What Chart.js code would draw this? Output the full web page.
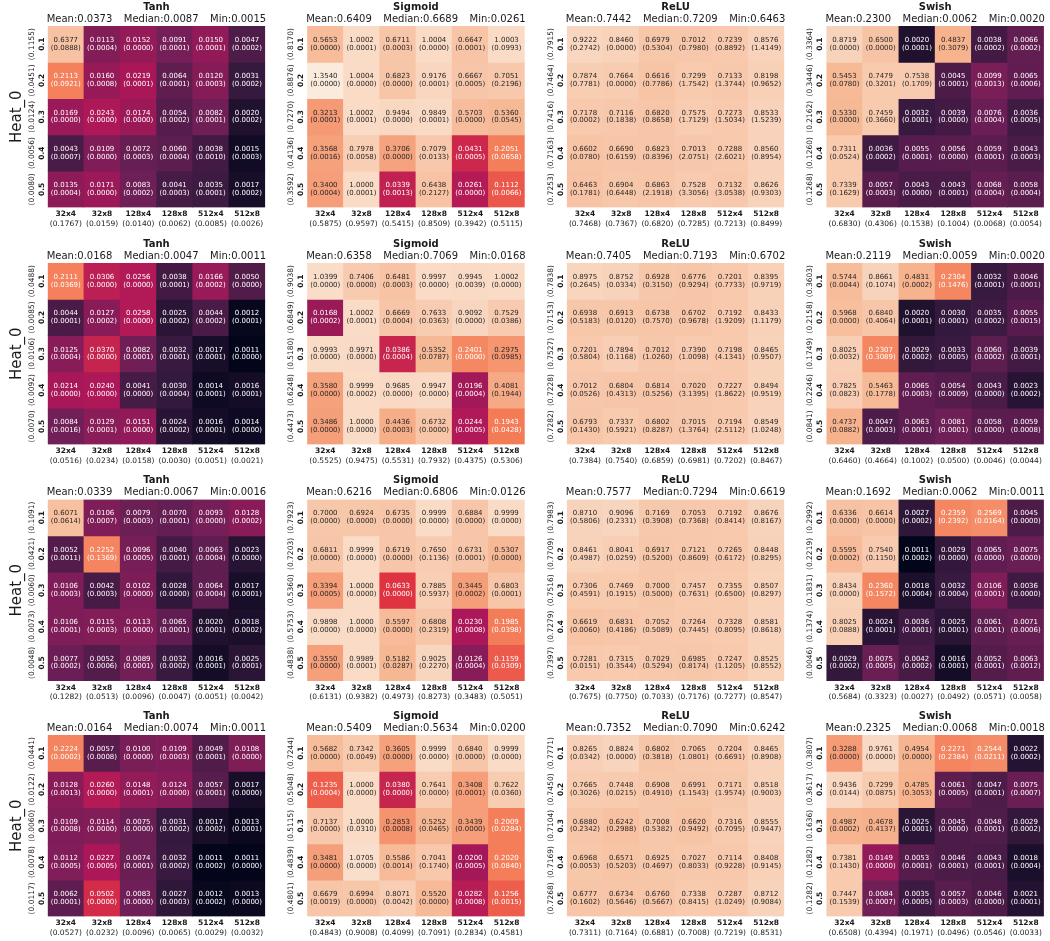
<!DOCTYPE html>
<html><head><meta charset="utf-8">
<script src="https://cdn.jsdelivr.net/npm/chart.js@4.4.1/dist/chart.umd.min.js"></script>
<style>
html,body{margin:0;padding:0;background:#fff;}
#wrap{position:relative;width:1050px;height:941px;overflow:hidden;background:#fff;}
canvas{position:absolute;}
</style></head><body><div id="wrap"></div>
<script>
// ---------------- DATA ----------------
const activations = ['Tanh', 'Sigmoid', 'ReLU', 'Swish'];
const colLabels = ['32x4', '32x8', '128x4', '128x8', '512x4', '512x8'];
const rowLabels = ['0.1', '0.2', '0.3', '0.4', '0.5'];
const heatLabel = 'Heat_0';

// ===== Row 1 =====
const r1TanhVals = [[0.6377,0.0113,0.0152,0.0091,0.0150,0.0047],[0.2113,0.0160,0.0219,0.0064,0.0120,0.0031],[0.0169,0.0243,0.0174,0.0054,0.0082,0.0020],[0.0043,0.0109,0.0072,0.0060,0.0038,0.0015],[0.0135,0.0171,0.0083,0.0041,0.0035,0.0017]];
const r1TanhStds = [[0.0888,0.0004,0.0000,0.0001,0.0001,0.0002],[0.0921,0.0008,0.0001,0.0001,0.0003,0.0002],[0.0000,0.0000,0.0000,0.0002,0.0001,0.0002],[0.0007,0.0000,0.0003,0.0004,0.0010,0.0003],[0.0004,0.0000,0.0002,0.0003,0.0001,0.0002]];
const r1TanhRowMeans = [0.1155,0.0451,0.0124,0.0056,0.0080];
const r1TanhColMeans = [0.1767,0.0159,0.0140,0.0062,0.0085,0.0026];
const r1TanhStats = [0.0373,0.0087,0.0015];

const r1SigmoidVals = [[0.5653,1.0002,0.6711,1.0004,0.6647,1.0003],[1.3540,1.0004,0.6823,0.9176,0.6667,0.7051],[0.3213,1.0002,0.9494,0.9849,0.5703,0.5360],[0.3568,0.7978,0.3706,0.7079,0.0431,0.2051],[0.3400,1.0000,0.0339,0.6438,0.0261,0.1112]];
const r1SigmoidStds = [[0.0000,0.0001,0.0003,0.0000,0.0001,0.0993],[0.0000,0.0000,0.0000,0.0001,0.0005,0.2196],[0.0001,0.0001,0.0000,0.0001,0.0000,0.0545],[0.0016,0.0058,0.0000,0.0133,0.0005,0.0658],[0.0004,0.0001,0.0013,0.2127,0.0000,0.0066]];
const r1SigmoidRowMeans = [0.8170,0.8876,0.7270,0.4136,0.3592];
const r1SigmoidColMeans = [0.5875,0.9597,0.5415,0.8509,0.3942,0.5115];
const r1SigmoidStats = [0.6409,0.6689,0.0261];

const r1ReluVals = [[0.9222,0.8460,0.6979,0.7012,0.7239,0.8576],[0.7874,0.7664,0.6616,0.7299,0.7133,0.8198],[0.7178,0.7116,0.6820,0.7575,0.7273,0.8533],[0.6602,0.6690,0.6823,0.7013,0.7288,0.8560],[0.6463,0.6904,0.6863,0.7528,0.7132,0.8626]];
const r1ReluStds = [[0.2742,0.0000,0.5304,0.7980,0.8892,1.4149],[0.7781,0.0000,0.7786,1.7542,1.3744,0.9652],[0.0002,0.1838,0.8658,1.7129,1.5034,1.5239],[0.0780,0.6159,0.8396,2.0751,2.6021,0.8954],[0.1781,0.6448,2.1918,3.3056,3.0538,0.9303]];
const r1ReluRowMeans = [0.7915,0.7464,0.7416,0.7163,0.7253];
const r1ReluColMeans = [0.7468,0.7367,0.6820,0.7285,0.7213,0.8499];
const r1ReluStats = [0.7442,0.7209,0.6463];

const r1SwishVals = [[0.8719,0.6500,0.0020,0.4837,0.0038,0.0066],[0.5453,0.7479,0.7538,0.0045,0.0099,0.0065],[0.5330,0.7459,0.0032,0.0039,0.0076,0.0036],[0.7311,0.0036,0.0055,0.0056,0.0059,0.0043],[0.7339,0.0057,0.0043,0.0043,0.0068,0.0058]];
const r1SwishStds = [[0.0000,0.0000,0.0001,0.3079,0.0002,0.0002],[0.0780,0.3201,0.1709,0.0001,0.0013,0.0006],[0.0000,0.3660,0.0001,0.0000,0.0004,0.0005],[0.0524,0.0002,0.0001,0.0000,0.0001,0.0003],[0.1629,0.0003,0.0000,0.0001,0.0004,0.0004]];
const r1SwishRowMeans = [0.3364,0.3446,0.2162,0.1260,0.1268];
const r1SwishColMeans = [0.6830,0.4306,0.1538,0.1004,0.0068,0.0054];
const r1SwishStats = [0.2300,0.0062,0.0020];

// ===== Row 2 =====
const r2TanhVals = [[0.2111,0.0306,0.0256,0.0038,0.0166,0.0050],[0.0044,0.0127,0.0258,0.0025,0.0044,0.0012],[0.0125,0.0370,0.0082,0.0032,0.0017,0.0011],[0.0214,0.0240,0.0041,0.0030,0.0014,0.0016],[0.0084,0.0129,0.0151,0.0024,0.0016,0.0014]];
const r2TanhStds = [[0.0369,0.0000,0.0000,0.0001,0.0002,0.0000],[0.0001,0.0002,0.0000,0.0002,0.0002,0.0001],[0.0004,0.0000,0.0001,0.0001,0.0001,0.0000],[0.0000,0.0000,0.0000,0.0004,0.0001,0.0001],[0.0016,0.0001,0.0000,0.0002,0.0001,0.0000]];
const r2TanhRowMeans = [0.0488,0.0085,0.0106,0.0092,0.0070];
const r2TanhColMeans = [0.0516,0.0234,0.0158,0.0030,0.0051,0.0021];
const r2TanhStats = [0.0168,0.0047,0.0011];

const r2SigmoidVals = [[1.0399,0.7406,0.6481,0.9997,0.9945,1.0002],[0.0168,1.0002,0.6669,0.7633,0.9092,0.7529],[0.9993,0.9971,0.0386,0.5352,0.2401,0.2975],[0.3580,0.9999,0.9685,0.9947,0.0196,0.4081],[0.3486,1.0000,0.4436,0.6732,0.0244,0.1943]];
const r2SigmoidStds = [[0.0000,0.0000,0.0003,0.0000,0.0039,0.0000],[0.0002,0.0001,0.0004,0.0363,0.0000,0.0386],[0.0000,0.0000,0.0004,0.0787,0.0000,0.0985],[0.0000,0.0002,0.0000,0.0000,0.0004,0.1944],[0.0000,0.0000,0.0003,0.0000,0.0005,0.0428]];
const r2SigmoidRowMeans = [0.9038,0.6849,0.5180,0.6248,0.4473];
const r2SigmoidColMeans = [0.5525,0.9475,0.5531,0.7932,0.4375,0.5306];
const r2SigmoidStats = [0.6358,0.7069,0.0168];

const r2ReluVals = [[0.8975,0.8752,0.6928,0.6776,0.7201,0.8395],[0.6938,0.6913,0.6738,0.6702,0.7192,0.8433],[0.7201,0.7894,0.7012,0.7390,0.7198,0.8465],[0.7012,0.6804,0.6814,0.7020,0.7227,0.8494],[0.6793,0.7337,0.6802,0.7015,0.7194,0.8549]];
const r2ReluStds = [[0.2645,0.0334,0.3150,0.9294,0.7733,0.9719],[0.5183,0.0120,0.7570,0.9678,1.9209,1.1179],[0.5804,0.1168,1.0260,1.0098,4.1341,0.9507],[0.0526,0.4313,0.5256,3.1395,1.8622,0.9519],[0.1430,0.5921,0.8287,1.3764,2.5112,1.0248]];
const r2ReluRowMeans = [0.7838,0.7153,0.7527,0.7228,0.7282];
const r2ReluColMeans = [0.7384,0.7540,0.6859,0.6981,0.7202,0.8467];
const r2ReluStats = [0.7405,0.7193,0.6702];

const r2SwishVals = [[0.5744,0.8661,0.4831,0.2304,0.0032,0.0046],[0.5968,0.6840,0.0020,0.0030,0.0035,0.0055],[0.8025,0.2307,0.0029,0.0033,0.0060,0.0039],[0.7825,0.5463,0.0065,0.0054,0.0043,0.0023],[0.4737,0.0047,0.0063,0.0081,0.0058,0.0059]];
const r2SwishStds = [[0.0044,0.1074,0.0002,0.1476,0.0001,0.0001],[0.0000,0.4064,0.0001,0.0001,0.0002,0.0015],[0.0032,0.3089,0.0002,0.0005,0.0002,0.0001],[0.0823,0.1778,0.0003,0.0009,0.0000,0.0002],[0.0882,0.0003,0.0001,0.0001,0.0000,0.0008]];
const r2SwishRowMeans = [0.3603,0.2158,0.1749,0.2246,0.0841];
const r2SwishColMeans = [0.6460,0.4664,0.1002,0.0500,0.0046,0.0044];
const r2SwishStats = [0.2119,0.0059,0.0020];

// ===== Row 3 =====
const r3TanhVals = [[0.6071,0.0106,0.0079,0.0070,0.0093,0.0128],[0.0052,0.2252,0.0096,0.0040,0.0063,0.0023],[0.0106,0.0042,0.0102,0.0028,0.0064,0.0017],[0.0106,0.0115,0.0113,0.0065,0.0020,0.0018],[0.0077,0.0052,0.0089,0.0032,0.0016,0.0025]];
const r3TanhStds = [[0.0614,0.0007,0.0003,0.0001,0.0000,0.0002],[0.0011,0.1369,0.0005,0.0001,0.0004,0.0000],[0.0003,0.0003,0.0000,0.0000,0.0004,0.0001],[0.0001,0.0003,0.0000,0.0001,0.0001,0.0002],[0.0002,0.0006,0.0001,0.0002,0.0001,0.0001]];
const r3TanhRowMeans = [0.1091,0.0421,0.0060,0.0073,0.0048];
const r3TanhColMeans = [0.1282,0.0513,0.0096,0.0047,0.0051,0.0042];
const r3TanhStats = [0.0339,0.0067,0.0016];

const r3SigmoidVals = [[0.7000,0.6924,0.6735,0.9999,0.6884,0.9999],[0.6811,0.9999,0.6719,0.7650,0.6731,0.5307],[0.3394,1.0000,0.0633,0.7885,0.3445,0.6803],[0.9898,1.0000,0.5597,0.6808,0.0230,0.1985],[0.3550,0.9989,0.5182,0.9025,0.0126,0.1159]];
const r3SigmoidStds = [[0.0000,0.0000,0.0000,0.0000,0.0000,0.0000],[0.0000,0.0000,0.0000,0.1136,0.0001,0.0000],[0.0005,0.0000,0.0000,0.5937,0.0002,0.0001],[0.0000,0.0000,0.0000,0.2319,0.0008,0.0398],[0.0000,0.0001,0.0287,0.2270,0.0004,0.0309]];
const r3SigmoidRowMeans = [0.7923,0.7203,0.5360,0.5753,0.4838];
const r3SigmoidColMeans = [0.6131,0.9382,0.4973,0.8273,0.3483,0.5051];
const r3SigmoidStats = [0.6216,0.6806,0.0126];

const r3ReluVals = [[0.8710,0.9096,0.7169,0.7053,0.7192,0.8676],[0.8461,0.8041,0.6917,0.7121,0.7265,0.8448],[0.7306,0.7469,0.7000,0.7457,0.7355,0.8507],[0.6619,0.6831,0.7052,0.7264,0.7328,0.8581],[0.7281,0.7315,0.7029,0.6985,0.7247,0.8525]];
const r3ReluStds = [[0.5806,0.2331,0.3908,0.7368,0.8414,0.8167],[0.4987,0.0259,0.5200,0.8609,0.6172,0.8295],[0.4591,0.1915,0.5000,0.7631,0.6500,0.8297],[0.0060,0.4186,0.5089,0.7445,0.8095,0.8618],[0.0151,0.3544,0.5294,0.8174,1.1205,0.8552]];
const r3ReluRowMeans = [0.7983,0.7709,0.7516,0.7279,0.7397];
const r3ReluColMeans = [0.7675,0.7750,0.7033,0.7176,0.7277,0.8547];
const r3ReluStats = [0.7577,0.7294,0.6619];

const r3SwishVals = [[0.6336,0.6614,0.0027,0.2359,0.2569,0.0045],[0.5595,0.7540,0.0011,0.0029,0.0065,0.0075],[0.8434,0.2360,0.0018,0.0032,0.0106,0.0036],[0.8025,0.0024,0.0036,0.0025,0.0061,0.0071],[0.0029,0.0075,0.0042,0.0016,0.0052,0.0063]];
const r3SwishStds = [[0.0000,0.0000,0.0002,0.2392,0.0164,0.0000],[0.0002,0.1150,0.0002,0.0000,0.0000,0.0000],[0.0000,0.1572,0.0004,0.0004,0.0001,0.0000],[0.0888,0.0001,0.0001,0.0001,0.0001,0.0006],[0.0002,0.0005,0.0002,0.0001,0.0001,0.0012]];
const r3SwishRowMeans = [0.2992,0.2219,0.1831,0.1374,0.0046];
const r3SwishColMeans = [0.5684,0.3323,0.0027,0.0492,0.0571,0.0058];
const r3SwishStats = [0.1692,0.0062,0.0011];

// ===== Row 4 =====
const r4TanhVals = [[0.2224,0.0057,0.0100,0.0109,0.0049,0.0108],[0.0128,0.0260,0.0148,0.0124,0.0057,0.0017],[0.0109,0.0114,0.0075,0.0031,0.0017,0.0013],[0.0112,0.0227,0.0074,0.0032,0.0011,0.0011],[0.0062,0.0502,0.0083,0.0027,0.0012,0.0013]];
const r4TanhStds = [[0.0002,0.0008,0.0000,0.0003,0.0001,0.0000],[0.0013,0.0000,0.0001,0.0000,0.0001,0.0000],[0.0008,0.0000,0.0000,0.0002,0.0002,0.0001],[0.0005,0.0005,0.0001,0.0002,0.0002,0.0000],[0.0001,0.0000,0.0000,0.0003,0.0002,0.0000]];
const r4TanhRowMeans = [0.0441,0.0122,0.0060,0.0078,0.0117];
const r4TanhColMeans = [0.0527,0.0232,0.0096,0.0065,0.0029,0.0032];
const r4TanhStats = [0.0164,0.0074,0.0011];

const r4SigmoidVals = [[0.5682,0.7342,0.3605,0.9999,0.6840,0.9999],[0.1235,1.0000,0.0380,0.7641,0.3408,0.7622],[0.7137,1.0000,0.2853,0.5252,0.3439,0.2009],[0.3481,1.0705,0.5586,0.7041,0.0200,0.2020],[0.6679,0.6994,0.8071,0.5520,0.0282,0.1256]];
const r4SigmoidStds = [[0.0000,0.0049,0.0000,0.0000,0.0000,0.0000],[0.0004,0.0000,0.0000,0.0000,0.0001,0.0360],[0.0000,0.0310,0.0008,0.0465,0.0000,0.0284],[0.0000,0.0000,0.0014,0.1740,0.0005,0.0840],[0.0019,0.0000,0.0042,0.0000,0.0008,0.0015]];
const r4SigmoidRowMeans = [0.7244,0.5048,0.5115,0.4839,0.4801];
const r4SigmoidColMeans = [0.4843,0.9008,0.4099,0.7091,0.2834,0.4581];
const r4SigmoidStats = [0.5409,0.5634,0.0200];

const r4ReluVals = [[0.8265,0.8824,0.6802,0.7065,0.7204,0.8465],[0.7665,0.7448,0.6908,0.6991,0.7171,0.8518],[0.6880,0.6242,0.7008,0.6620,0.7316,0.8555],[0.6968,0.6571,0.6925,0.7027,0.7114,0.8408],[0.6777,0.6734,0.6760,0.7338,0.7287,0.8712]];
const r4ReluStds = [[0.0342,0.0000,0.3818,1.0801,0.6691,0.8908],[0.3026,0.0215,0.4910,1.1543,1.9574,0.9003],[0.2342,0.2988,0.5382,0.9492,0.7095,0.9447],[0.0053,0.5203,0.4697,0.8033,0.9228,0.9145],[0.1602,0.5646,0.5667,0.8415,1.0249,0.9084]];
const r4ReluRowMeans = [0.7771,0.7450,0.7104,0.7169,0.7268];
const r4ReluColMeans = [0.7311,0.7164,0.6881,0.7008,0.7219,0.8531];
const r4ReluStats = [0.7352,0.7090,0.6242];

const r4SwishVals = [[0.3288,0.9761,0.4954,0.2271,0.2544,0.0022],[0.9436,0.7299,0.4785,0.0061,0.0047,0.0075],[0.4987,0.4678,0.0025,0.0045,0.0048,0.0029],[0.7381,0.0149,0.0053,0.0046,0.0043,0.0018],[0.7447,0.0084,0.0035,0.0057,0.0046,0.0021]];
const r4SwishStds = [[0.0000,0.0000,0.0000,0.2384,0.0211,0.0002],[0.0144,0.0875,0.3053,0.0005,0.0001,0.0007],[0.0002,0.4137,0.0001,0.0000,0.0001,0.0002],[0.1430,0.0000,0.0001,0.0001,0.0001,0.0004],[0.1539,0.0007,0.0005,0.0003,0.0000,0.0001]];
const r4SwishRowMeans = [0.3807,0.3617,0.1636,0.1282,0.1282];
const r4SwishColMeans = [0.6508,0.4394,0.1971,0.0496,0.0546,0.0033];
const r4SwishStats = [0.2325,0.0068,0.0018];

// panel table built from the arrays above
const panelRows = [
  [[r1TanhVals,r1TanhStds,r1TanhRowMeans,r1TanhColMeans,r1TanhStats],[r1SigmoidVals,r1SigmoidStds,r1SigmoidRowMeans,r1SigmoidColMeans,r1SigmoidStats],[r1ReluVals,r1ReluStds,r1ReluRowMeans,r1ReluColMeans,r1ReluStats],[r1SwishVals,r1SwishStds,r1SwishRowMeans,r1SwishColMeans,r1SwishStats]],
  [[r2TanhVals,r2TanhStds,r2TanhRowMeans,r2TanhColMeans,r2TanhStats],[r2SigmoidVals,r2SigmoidStds,r2SigmoidRowMeans,r2SigmoidColMeans,r2SigmoidStats],[r2ReluVals,r2ReluStds,r2ReluRowMeans,r2ReluColMeans,r2ReluStats],[r2SwishVals,r2SwishStds,r2SwishRowMeans,r2SwishColMeans,r2SwishStats]],
  [[r3TanhVals,r3TanhStds,r3TanhRowMeans,r3TanhColMeans,r3TanhStats],[r3SigmoidVals,r3SigmoidStds,r3SigmoidRowMeans,r3SigmoidColMeans,r3SigmoidStats],[r3ReluVals,r3ReluStds,r3ReluRowMeans,r3ReluColMeans,r3ReluStats],[r3SwishVals,r3SwishStds,r3SwishRowMeans,r3SwishColMeans,r3SwishStats]],
  [[r4TanhVals,r4TanhStds,r4TanhRowMeans,r4TanhColMeans,r4TanhStats],[r4SigmoidVals,r4SigmoidStds,r4SigmoidRowMeans,r4SigmoidColMeans,r4SigmoidStats],[r4ReluVals,r4ReluStds,r4ReluRowMeans,r4ReluColMeans,r4ReluStats],[r4SwishVals,r4SwishStds,r4SwishRowMeans,r4SwishColMeans,r4SwishStats]]
];

// ---------------- LAYOUT / STYLE ----------------
const CELL_LEFTS = [47.7, 307.2, 566.8, 826.4];
const ROW_TOPS = [26, 263, 499.5, 735];
const MAP_W = 217.5, MAP_H = 181.5;
const FONT = '"DejaVu Sans", "Liberation Sans", sans-serif';
const TEXT_DARK = '#262626';

// seaborn "rocket" colormap, log normalised over all cell values
const ROCKET = [[0,[3,5,26]],[1/7,[53,25,62]],[2/7,[112,31,87]],[3/7,[173,23,89]],[4/7,[225,51,66]],[5/7,[243,118,81]],[6/7,[246,180,143]],[1,[250,235,221]]];
const allVals = panelRows.flat().flatMap(p => p[0].flat());
const LOG_MIN = Math.log10(Math.min(...allVals));
const LOG_MAX = Math.log10(Math.max(...allVals));
function rocketRGB(t) {
  t = Math.max(0, Math.min(1, t));
  for (let i = 1; i < ROCKET.length; i++) {
    if (t <= ROCKET[i][0]) {
      const [t0, c0] = ROCKET[i-1], [t1, c1] = ROCKET[i];
      const f = (t - t0) / (t1 - t0);
      return c0.map((v, k) => v + (c1[k] - v) * f);
    }
  }
  return ROCKET[ROCKET.length-1][1];
}
function cellRGB(v) { return rocketRGB((Math.log10(v) - LOG_MIN) / (LOG_MAX - LOG_MIN)); }
function cellColor(v) { const c = cellRGB(v); return `rgb(${c[0].toFixed(0)},${c[1].toFixed(0)},${c[2].toFixed(0)})`; }
function annotColor(v) {
  const lin = cellRGB(v).map(x => { x /= 255; return x <= 0.03928 ? x / 12.92 : Math.pow((x + 0.055) / 1.055, 2.4); });
  const lum = 0.2126 * lin[0] + 0.7152 * lin[1] + 0.0722 * lin[2];
  return lum > 0.408 ? TEXT_DARK : '#ffffff';
}

function makeTextPlugin(panel, title, showHeat) {
  const [vals, stds, rowMeans, colMeans, stats] = panel;
  return {
    id: 'heatText',
    afterDatasetsDraw(chart) {
      const ctx = chart.ctx, xs = chart.scales.x, ys = chart.scales.y, a = chart.chartArea;
      ctx.save();
      ctx.textAlign = 'center';
      ctx.textBaseline = 'middle';
      // cell annotations
      ctx.font = `7px ${FONT}`;
      vals.forEach((row, r) => row.forEach((v, c) => {
        const x = xs.getPixelForValue(c), y = ys.getPixelForValue(r);
        ctx.fillStyle = annotColor(v);
        ctx.fillText(v.toFixed(4), x, y - 4);
        ctx.fillText('(' + stds[r][c].toFixed(4) + ')', x, y + 3.8);
      }));
      ctx.fillStyle = '#1a1a1a';
      // x tick labels
      colLabels.forEach((lab, c) => {
        const x = xs.getPixelForValue(c);
        ctx.font = `bold 7.5px ${FONT}`;
        ctx.fillText(lab, x, a.bottom + 6.8);
        ctx.font = `7.5px ${FONT}`;
        ctx.fillText('(' + colMeans[c].toFixed(4) + ')', x, a.bottom + 16.2);
      });
      // y tick labels (rotated)
      rowLabels.forEach((lab, r) => {
        const y = ys.getPixelForValue(r);
        ctx.save();
        ctx.translate(a.left - 6, y); ctx.rotate(-Math.PI / 2);
        ctx.font = `bold 7.5px ${FONT}`;
        ctx.fillText(lab, 0, 0);
        ctx.restore();
        ctx.save();
        ctx.translate(a.left - 16, y); ctx.rotate(-Math.PI / 2);
        ctx.font = `7.5px ${FONT}`;
        ctx.fillText('(' + rowMeans[r].toFixed(4) + ')', 0, 0);
        ctx.restore();
      });
      // title
      const cx = (a.left + a.right) / 2;
      ctx.font = `bold 10px ${FONT}`;
      ctx.fillText(title, cx, a.top - 18.7);
      // stats line
      ctx.font = `10px ${FONT}`;
      const parts = ['Mean:' + stats[0].toFixed(4), 'Median:' + stats[1].toFixed(4), 'Min:' + stats[2].toFixed(4)];
      const w = parts.map(p => ctx.measureText(p).width);
      const span = (a.right - a.left) + 2;
      const gap = (span - w[0] - w[1] - w[2]) / 2;
      let x0 = a.left - 1;
      ctx.textAlign = 'left';
      const sy = a.top - 6.7;
      ctx.fillText(parts[0], x0, sy);
      ctx.fillText(parts[1], x0 + w[0] + gap, sy);
      ctx.fillText(parts[2], x0 + w[0] + gap + w[1] + gap, sy);
      // row label
      if (showHeat) {
        ctx.textAlign = 'center';
        ctx.save();
        ctx.translate(16.7, (a.top + a.bottom) / 2);
        ctx.rotate(-Math.PI / 2);
        ctx.font = `15px ${FONT}`;
        ctx.fillText(heatLabel, 0, 0);
        ctx.restore();
      }
      ctx.restore();
    }
  };
}

const wrap = document.getElementById('wrap');
panelRows.forEach((row, ri) => row.forEach((panel, ci) => {
  const cellLeft = CELL_LEFTS[ci], cellTop = ROW_TOPS[ri];
  const cvLeft = Math.max(0, Math.floor(cellLeft - 48));
  const cvTop = Math.floor(cellTop - 26);
  const cvW = 278, cvH = 236;
  const cv = document.createElement('canvas');
  cv.width = cvW; cv.height = cvH;
  cv.style.left = cvLeft + 'px'; cv.style.top = cvTop + 'px';
  cv.style.width = cvW + 'px'; cv.style.height = cvH + 'px';
  wrap.appendChild(cv);
  const padL = cellLeft - cvLeft, padT = cellTop - cvTop;
  const vals = panel[0];
  new Chart(cv, {
    type: 'bar',
    data: {
      labels: colLabels,
      datasets: rowLabels.map((rl, r) => ({
        label: rl,
        data: colLabels.map(() => [r - 0.5, r + 0.5]),
        backgroundColor: vals[r].map(cellColor),
        borderWidth: 0,
        grouped: false,
        barPercentage: 1,
        categoryPercentage: 1
      }))
    },
    options: {
      responsive: false,
      animation: false,
      devicePixelRatio: 1,
      events: [],
      layout: { padding: { left: padL, top: padT, right: cvW - padL - MAP_W, bottom: cvH - padT - MAP_H } },
      plugins: { legend: { display: false }, tooltip: { enabled: false }, title: { display: false } },
      scales: {
        x: { display: false, offset: true },
        y: { display: false, min: -0.5, max: 4.5, reverse: true }
      }
    },
    plugins: [makeTextPlugin(panel, activations[ci], ci === 0)]
  });
}));
</script>
</body></html>
